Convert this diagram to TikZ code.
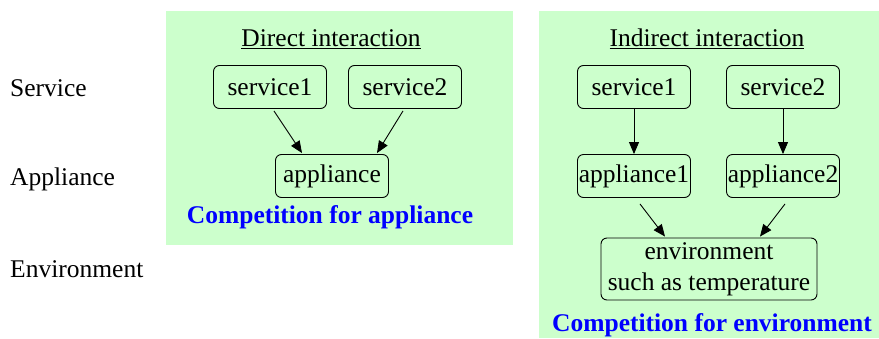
\documentclass[tikz,border=0pt]{standalone}
\usepackage{fontspec}
\setmainfont{Liberation Serif}
\usepackage{xcolor}
\usetikzlibrary{positioning, calc, arrows.meta}
\definecolor{panelgreen}{HTML}{CCFFCC}

\begin{document}
\begin{tikzpicture}[x=1pt, y=-1pt,
    every node/.style={font=\fontsize{25.5pt}{31pt}\selectfont, inner sep=0pt},
    unit/.style={draw=black, line width=0.9pt, rounded corners=6pt, fill=panelgreen, minimum width=113pt, minimum height=43pt},
    arr/.style={-{Triangle[length=12pt, width=10pt]}, line width=0.9pt},
    note/.style={font=\fontsize{25.5pt}{29pt}\selectfont\bfseries, text=blue}]
        \useasboundingbox (0,0) rectangle (879,338);
        % Panels
        \fill[panelgreen] (166,11) rectangle (513,245);
        \fill[panelgreen] (539,11) rectangle (879,338);

        % Row labels
        \node[anchor=west] (lserv) at (10,88) {Service};
        \node[anchor=west] (lapp) at (10,179) {Appliance};
        \node[anchor=west] (lenv) at (10,269) {Environment};

        % Direct interaction
        \node (dtitle) at (331,39) {\underline{Direct interaction}};
        \node[unit] (ds1) at (270,87) {service1};
        \node[unit] (ds2) at (405,87) {service2};
        \node[unit] (dapp) at (332,176) {appliance};
        \draw[arr] ($(ds1.south)+(4,2)$) -- ($(dapp.north)+(-30,-1)$);
        \draw[arr] ($(ds2.south)+(-2,2)$) -- ($(dapp.north)+(45,-1)$);
        \node[note] (dnote) at (330,217) {Competition for appliance};

        % Indirect interaction
        \node (ititle) at (707,39) {\underline{Indirect interaction}};
        \node[unit] (is1) at (634,87) {service1};
        \node[unit] (is2) at (783,87) {service2};
        \node[unit] (ia1) at (634,176) {appliance1};
        \node[unit] (ia2) at (783,176) {appliance2};
        \node[unit, align=center, minimum width=216pt, minimum height=62pt] (ienv) at (709,269) {environment\\such as temperature};
        \draw[arr] (is1) -- (ia1);
        \draw[arr] (is2) -- (ia2);
        \draw[arr] ($(ia1.south)+(6,6)$) -- ($(ienv.north)+(-44,-1)$);
        \draw[arr] ($(ia2.south)+(2,6)$) -- ($(ienv.north)+(51,-1)$);
        \node[note] (inote) at (712,325) {Competition for environment};
\end{tikzpicture}
\end{document}
